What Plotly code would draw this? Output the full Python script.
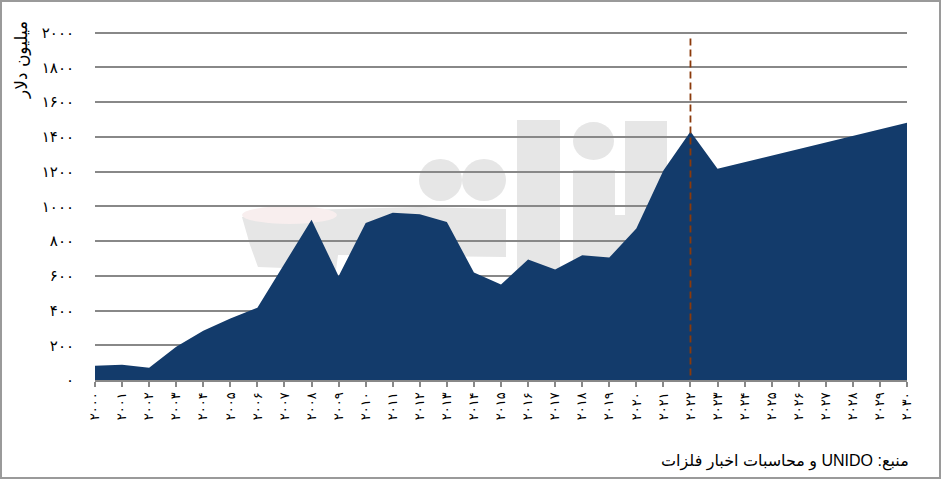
import plotly.graph_objects as go

# ---- data ----
years = list(range(2000, 2031))
values = [82, 88, 71, 191, 283, 354, 416, 670, 923, 598,
          904, 963, 954, 910, 619, 550, 694, 636, 718, 705,
          872, 1207, 1431, 1217, 1255, 1291, 1328, 1367, 1405, 1443, 1481]
y_ticks = list(range(0, 2001, 200))
forecast_start = 2022
y_title = "میلیون دلار"
source_text = "منبع: UNIDO و محاسبات اخبار فلزات"

FA = str.maketrans("0123456789", "۰۱۲۳۴۵۶۷۸۹")
def fa(n):
    return str(n).translate(FA)

x_labels = [fa(y) for y in years]
y_labels = [fa(v) for v in y_ticks]

W, H = 942, 480
L, R, T, B = 95, 35, 26, 100
PW, PH = W - L - R, H - T - B
Y_TOP = 2000 * (380 - 26) / (380 - 32.7)

def px(x):
    return (x - L) / PW

def py(y):
    return (H - B - y) / PH

fig = go.Figure()
fig.add_trace(go.Scatter(
    x=years, y=values, mode="lines", fill="tozeroy",
    line=dict(width=0, color="#133b6b"), fillcolor="#133b6b",
    hoverinfo="skip", showlegend=False))

shapes = []
# outer border
shapes.append(dict(type="rect", xref="paper", yref="paper",
                   x0=px(1), x1=px(W - 2), y0=py(1), y1=py(H - 2),
                   line=dict(color="#9a9a9a", width=2), fillcolor="rgba(0,0,0,0)"))
# watermark (decorative, light gray)
wm = "#e6e6e6"
def wrect(x0, y0, x1, y1):
    shapes.append(dict(type="rect", xref="paper", yref="paper", layer="below",
                       x0=px(x0), x1=px(x1), y0=py(y0), y1=py(y1),
                       line=dict(width=0), fillcolor=wm))
def wcirc(x0, y0, x1, y1):
    shapes.append(dict(type="circle", xref="paper", yref="paper", layer="below",
                       x0=px(x0), x1=px(x1), y0=py(y0), y1=py(y1),
                       line=dict(width=0), fillcolor=wm))
wcirc(419, 159, 462, 201)
wcirc(462, 159, 506, 201)
wrect(517, 120, 560, 300)
wcirc(573, 122, 614, 160)
wrect(573, 170, 615, 300)
wrect(625, 121, 667, 300)
wrect(573, 215, 667, 300)
# banner / bowl shape
pts = [(242, 217), (300, 210), (420, 207), (506, 209), (506, 257),
       (338, 255), (336, 270), (258, 267), (250, 245)]
path = "M " + " L ".join(f"{px(a):.4f},{py(b):.4f}" for a, b in pts) + " Z"
shapes.append(dict(type="path", xref="paper", yref="paper", layer="below",
                   path=path, line=dict(width=0), fillcolor=wm))
shapes.append(dict(type="circle", xref="paper", yref="paper", layer="below",
                   x0=px(242), x1=px(337), y0=py(206), y1=py(224),
                   line=dict(width=0), fillcolor="#f8eeee"))
# forecast divider (drawn top-down so the dash pattern starts at the top)
shapes.append(dict(type="line", xref="x", yref="y",
                   x0=forecast_start, x1=forecast_start, y0=y_ticks[-1] * 0.983, y1=0,
                   line=dict(color="#8b3a0b", width=1.8, dash="7px,4px")))

fig.update_layout(
    width=W, height=H, autosize=False,
    margin=dict(l=L, r=R, t=T, b=B),
    paper_bgcolor="white", plot_bgcolor="white",
    font=dict(family="DejaVu Sans", color="black"),
    shapes=shapes,
    annotations=[
        dict(text=y_title, xref="paper", yref="paper", x=px(21), y=py(60),
             xanchor="center", yanchor="middle",
             showarrow=False, textangle=-90, font=dict(size=17, family="DejaVu Sans")),
        dict(text="\u202B" + source_text + "\u202C", xref="paper", yref="paper",
             x=px(911), y=py(461),
             xanchor="right", yanchor="middle", showarrow=False,
             font=dict(size=16, family="Liberation Sans, DejaVu Sans")),
    ],
    xaxis=dict(range=[years[0], years[-1]], tickvals=years, ticktext=x_labels,
               tickangle=-90, ticks="outside", ticklen=5, tickwidth=1.5,
               tickcolor="#888888", showline=True, linecolor="#888888", linewidth=2,
               showgrid=False, zeroline=False, tickfont=dict(size=13), fixedrange=True),
    yaxis=dict(range=[0, Y_TOP], tickvals=y_ticks, ticktext=y_labels,
               showgrid=True, gridcolor="#888888", gridwidth=1.6,
               zeroline=False, showline=False, ticks="", ticklabelstandoff=20,
               tickfont=dict(size=15), fixedrange=True),
)
fig.write_html(
    "out.html",
    config={"displayModeBar": False},
    post_script="document.body.style.margin='0';document.body.style.padding='0';"
                "document.body.style.overflow='hidden';",
)
